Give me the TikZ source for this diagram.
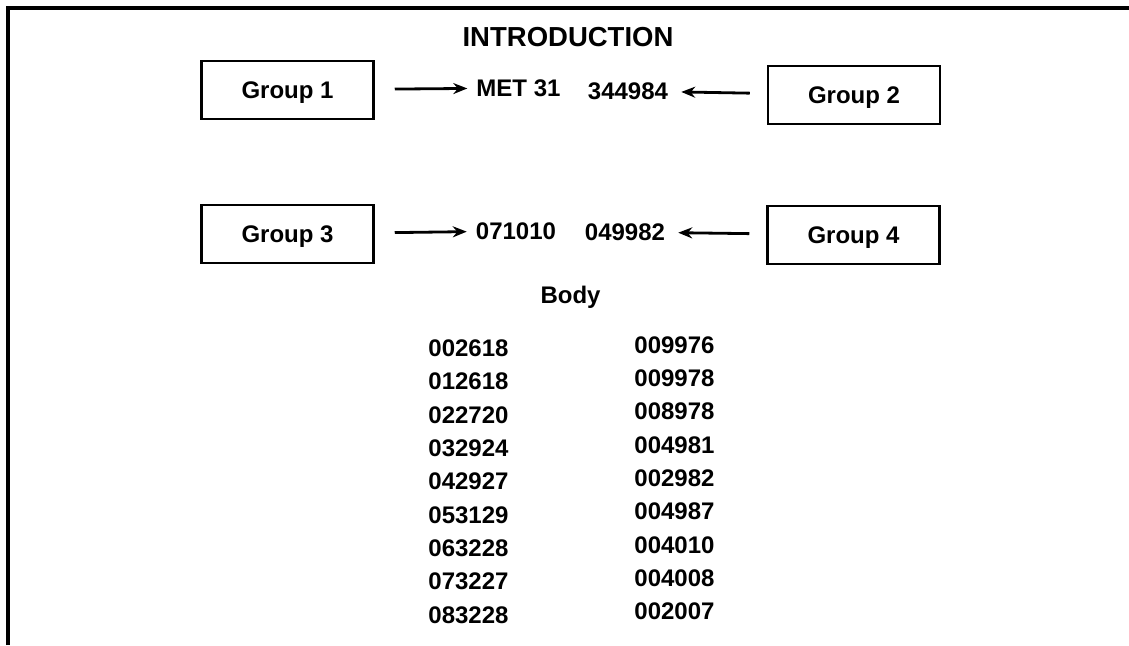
\documentclass[tikz,border=0pt]{standalone}
\usepackage{fontspec}
\setmainfont{Liberation Sans}
\usetikzlibrary{arrows.meta, positioning}

\begin{document}
\begin{tikzpicture}[
    x=1pt, y=-1pt,
    font=\bfseries\fontsize{24}{28}\selectfont,
    groupbox/.style={
        rectangle, draw=black, line width=2.5pt, fill=white,
        minimum width=172pt, minimum height=58pt, inner sep=0pt,
        text height=16pt, text depth=0pt
    },
    codelabel/.style={inner sep=0pt},
    arrow/.style={-{Stealth[length=14pt, width=11pt]}, line width=2.8pt, draw=black}
]
\useasboundingbox (0,0) rectangle (1129,645);

% Frame along the top and left edges
\draw[line width=4pt] (8,645) -- (8,8) -- (1129,8);

% Title
\node[codelabel, font=\bfseries\fontsize{27.5}{32}\selectfont] (intro) at (568,37) {INTRODUCTION};

% Four group boxes
\node[groupbox] (g1) at (287.5,90)  {Group 1};
\node[groupbox] (g2) at (854,95)    {Group 2};
\node[groupbox] (g3) at (287.5,234) {Group 3};
\node[groupbox] (g4) at (853.5,235) {Group 4};

% Codes between the boxes
\node[codelabel] (met)  at (518.5,88) {MET 31};
\node[codelabel] (c344) at (628,91)   {344984};
\node[codelabel] (c071) at (516,231)  {071010};
\node[codelabel] (c049) at (625,232)  {049982};

% Arrows from the boxes to the codes
\draw[arrow, shorten <=20pt, shorten >=9pt]  (g1) -- (met);
\draw[arrow, shorten <=17pt, shorten >=13pt] (g2) -- (c344);
\draw[arrow, shorten <=20pt, shorten >=9pt]  (g3) -- (c071);
\draw[arrow, shorten <=17pt, shorten >=13pt] (g4) -- (c049);

% Body heading and its two columns of codes
\node[codelabel, anchor=base] (body) at (570.5,303) {Body};
\foreach \code [count=\i from 0] in {002618,012618,022720,032924,042927,053129,063228,073227,083228}
    \node[codelabel] (left\i) at (468.5,{348.3+33.33*\i}) {\code};
\foreach \code [count=\i from 0] in {009976,009978,008978,004981,002982,004987,004010,004008,002007}
    \node[codelabel] (right\i) at (674.5,{345+33.33*\i}) {\code};

\end{tikzpicture}
\end{document}
